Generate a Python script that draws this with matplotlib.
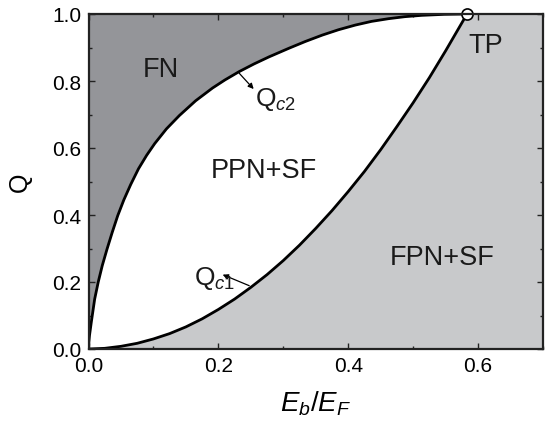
import matplotlib
matplotlib.use("Agg")
import matplotlib.pyplot as plt
from matplotlib.ticker import MultipleLocator, FormatStrFormatter

# ---- data ----
qc2_x = [0.0, 0.0005, 0.0015, 0.0043, 0.0095, 0.015, 0.0212, 0.0285, 0.0365, 0.045,
         0.0544, 0.065, 0.077, 0.0895, 0.1019, 0.120, 0.140, 0.165, 0.191, 0.210,
         0.232, 0.255, 0.278, 0.309, 0.334, 0.360, 0.385, 0.411, 0.436, 0.462,
         0.487, 0.513, 0.548, 0.583]
qc2_q = [0.0, 0.02, 0.04, 0.080, 0.149, 0.200, 0.249, 0.298, 0.348, 0.398,
         0.445, 0.491, 0.538, 0.578, 0.613, 0.657, 0.697, 0.741, 0.779, 0.803,
         0.828, 0.851, 0.872, 0.898, 0.918, 0.937, 0.953, 0.967, 0.978, 0.986,
         0.992, 0.996, 0.999, 1.0]

qc1_x = [0.0, 0.025, 0.05, 0.075, 0.1, 0.125, 0.15, 0.175, 0.2, 0.225, 0.25, 0.275,
         0.3, 0.325, 0.35, 0.375, 0.4, 0.425, 0.45, 0.475, 0.5, 0.525, 0.55, 0.583]
qc1_q = [0.0, 0.002, 0.008, 0.017, 0.030, 0.046, 0.066, 0.090, 0.118, 0.149, 0.184,
         0.222, 0.264, 0.31, 0.36, 0.413, 0.47, 0.53, 0.595, 0.664, 0.735, 0.81,
         0.89, 1.0]

tp_x, tp_q = 0.583, 1.0
x_max = 0.7

x_ticks = [0.0, 0.2, 0.4, 0.6]
y_ticks = [0.0, 0.2, 0.4, 0.6, 0.8, 1.0]

region_labels = ["FN", "PPN+SF", "FPN+SF", "TP"]
region_pos = [(0.1108, 0.816), (0.2705, 0.512), (0.5444, 0.254), (0.6115, 0.886)]

plt.rcParams['font.family'] = ['Liberation Sans', 'DejaVu Sans']
plt.rcParams['mathtext.fontset'] = 'custom'
plt.rcParams['mathtext.rm'] = 'Liberation Sans'
plt.rcParams['mathtext.it'] = 'Liberation Sans:italic'
plt.rcParams['mathtext.bf'] = 'Liberation Sans:bold'

fig = plt.figure(figsize=(5.51, 4.35), dpi=100)
ax = fig.add_axes([88.5 / 551, 1 - 350 / 435, (543 - 88.5) / 551, (350 - 15) / 435])

dark = '#949599'
light = '#c8c9cb'

ax.fill_between(qc2_x, qc2_q, 1.0, color=dark, lw=0, zorder=1)
ax.fill_between(qc1_x, 0.0, qc1_q, color=light, lw=0, zorder=1)
ax.fill_between([tp_x, x_max], 0.0, 1.0, color=light, lw=0, zorder=1)

ax.plot(qc2_x, qc2_q, color='black', lw=2.0, zorder=3, solid_capstyle='round')
ax.plot(qc1_x, qc1_q, color='black', lw=2.0, zorder=3, solid_capstyle='round')
ax.plot([tp_x], [tp_q], 'o', ms=8, mfc='white', mec='black', mew=1.2,
        zorder=5, clip_on=False)

for lab, (lx, ly) in zip(region_labels, region_pos):
    ax.text(lx, ly, lab, fontsize=19.5, ha='center', va='baseline',
            color='#1a1a1a', zorder=4)

arrow_kw = dict(arrowstyle='-|>', lw=0.9, color='black', mutation_scale=8,
                shrinkA=0, shrinkB=0)
ax.annotate('', xy=(0.2544, 0.776), xytext=(0.2322, 0.823),
            arrowprops=arrow_kw, zorder=4)
ax.text(0.2567, 0.728, r'$\mathrm{Q}_{\mathit{c2}}$', fontsize=19, ha='left',
        va='baseline', color='#1a1a1a', zorder=4)
ax.annotate('', xy=(0.2066, 0.222), xytext=(0.2475, 0.189),
            arrowprops=arrow_kw, zorder=4)
ax.text(0.163, 0.194, r'$\mathrm{Q}_{\mathit{c1}}$', fontsize=19, ha='left',
        va='baseline', color='#1a1a1a', zorder=4)

ax.set_xlim(0, x_max)
ax.set_ylim(0, 1.0)
ax.set_xticks(x_ticks)
ax.set_yticks(y_ticks)
ax.xaxis.set_major_formatter(FormatStrFormatter('%.1f'))
ax.yaxis.set_major_formatter(FormatStrFormatter('%.1f'))
ax.xaxis.set_minor_locator(MultipleLocator(0.1))
ax.yaxis.set_minor_locator(MultipleLocator(0.1))
ax.tick_params(which='both', direction='in', top=True, right=True,
               labelsize=15, width=1.0, color='#222222')
ax.tick_params(which='major', length=4.5, pad=5)
ax.tick_params(which='minor', length=2.5)
for s in ax.spines.values():
    s.set_linewidth(1.6)
    s.set_color('#222222')
    s.set_zorder(6)

ax.set_xlabel(r'$E_b/E_F$', fontsize=20)
ax.set_ylabel('Q', fontsize=18)
ax.xaxis.set_label_coords(0.5, -0.161)
ax.xaxis.label.set_va('center')
ax.yaxis.set_label_coords(-0.151, 0.5)
ax.yaxis.label.set_va('center')

fig.savefig('out.png', dpi=100)
